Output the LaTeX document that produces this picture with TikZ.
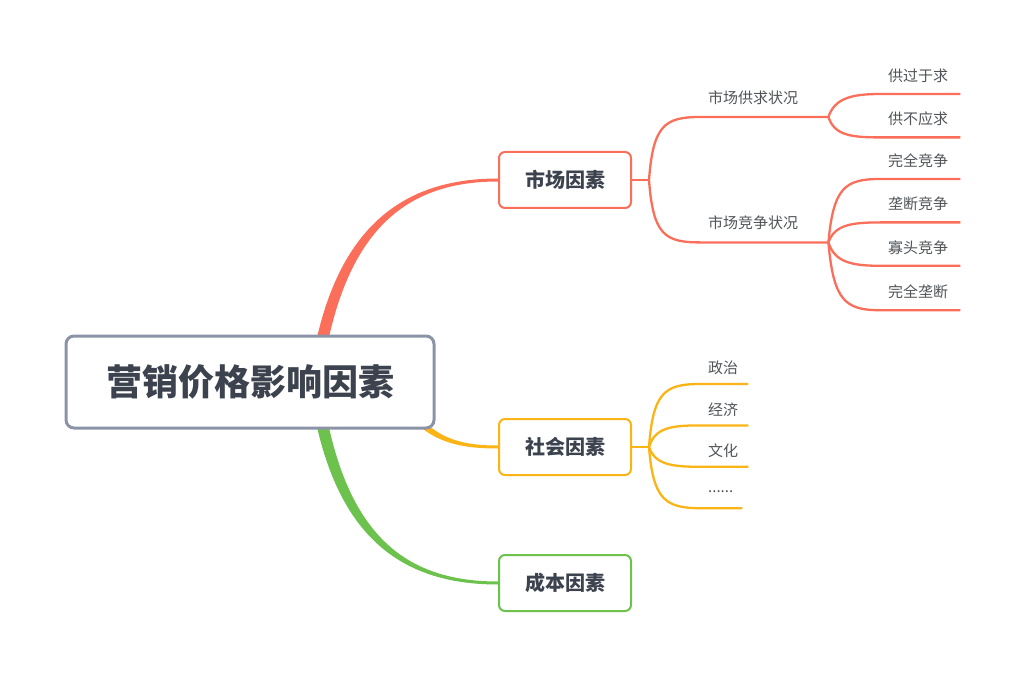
\documentclass[tikz,border=0pt]{standalone}
\usepackage{fontspec}
\setmainfont{Noto Sans CJK SC}
\usetikzlibrary{positioning}
\pgfdeclarelayer{background}
\pgfsetlayers{background,main}
\definecolor{mkred}{HTML}{FA6E5A}
\definecolor{mkorange}{HTML}{FBB416}
\definecolor{mkgreen}{HTML}{6CC24C}
\definecolor{rootgray}{HTML}{8A94A6}
\definecolor{textdark}{HTML}{3C434E}
\definecolor{textgray}{HTML}{505458}
\tikzstyle{root} = [
    rectangle, 
    rounded corners=8pt, 
    minimum width=368pt, 
    minimum height=92pt,
    draw=rootgray, 
    line width=3pt,
    fill=white,
    text=textdark,
    font=\fontsize{36}{40}\selectfont\bfseries
]
\tikzstyle{topic} = [
    rectangle, 
    rounded corners=6pt, 
    minimum width=132pt, 
    minimum height=56pt,
    line width=2pt,
    fill=white,
    text=textdark,
    font=\fontsize{20}{23}\selectfont\bfseries
]
\tikzstyle{sub} = [
    rectangle, 
    inner xsep=8pt, 
    inner ysep=0pt, 
    minimum height=38pt,
    text width=112pt, 
    align=left,
    text=textgray,
    font=\fontsize{15}{18}\selectfont
]
\tikzstyle{leaf} = [sub, minimum height=36pt, text width=64pt]
\tikzstyle{sleaf} = [sub, minimum height=32pt, text width=32pt]
\tikzstyle{branch} = [line width=2.3pt]

\begin{document}
\begin{tikzpicture}[x=1pt, y=-1pt]
\useasboundingbox (0,0) rectangle (1024,676);

% Nodes
\node (root) [root] at (250,382) {营销价格影响因素};
\node (mkt) [topic, draw=mkred] at (565,180) {市场因素};
\node (soc) [topic, draw=mkorange, below=209pt of mkt] {社会因素};
\node (cost) [topic, draw=mkgreen, below=78pt of soc] {成本因素};

\node (gq) [sub, anchor=south west] at (700,117) {市场供求状况};
\node (jz) [sub, below=87pt of gq] {市场竞争状况};

\node (gq1) [leaf, anchor=south west] at (880,94) {供过于求};
\node (gq2) [leaf, below=7pt of gq1] {供不应求};
\node (jz1) [leaf, anchor=south west] at (880,179) {完全竞争};
\node (jz2) [leaf, below=7pt of jz1] {垄断竞争};
\node (jz3) [leaf, below=7pt of jz2] {寡头竞争};
\node (jz4) [leaf, below=8pt of jz3] {完全垄断};

\node (sh1) [sleaf, anchor=south west] at (700,384) {政治};
\node (sh2) [sleaf, below=9pt of sh1] {经济};
\node (sh3) [sleaf, below=9pt of sh2] {文化};
\node (sh4) [sleaf, below=9pt of sh3] {......};

% Main branches
\begin{pgfonlayer}{background}
\fill [mkred] ([xshift=59pt]root.center) .. controls (329,232) and (398,178.5) .. ([yshift=1.5pt]mkt.west)
    -- ([yshift=-1.5pt]mkt.west) .. controls (402,181.5) and (341,234) .. ([xshift=71pt]root.center) -- cycle;
\fill [mkgreen] ([xshift=59pt]root.center) .. controls (329,534) and (398,584.5) .. ([yshift=-1.5pt]cost.west)
    -- ([yshift=1.5pt]cost.west) .. controls (402,581.5) and (341,532) .. ([xshift=71pt]root.center) -- cycle;
\fill [mkorange] ([xshift=152pt,yshift=-11pt]root.center) .. controls (428,436) and (455,445.5) .. ([yshift=1.5pt]soc.west)
    -- ([yshift=-1.5pt]soc.west) .. controls (453,448.5) and (422,440) .. ([xshift=146pt,yshift=-16pt]root.center) -- cycle;
\end{pgfonlayer}

% Market branches
\draw [branch, mkred] (mkt.east) -- ++(17,0) coordinate (mktfork);
\draw [branch, mkred] (mktfork) .. controls +(4,-55) and +(-35,0) .. (gq.south west) -- (gq.south east);
\draw [branch, mkred] (mktfork) .. controls +(4,55) and +(-35,0) .. (jz.south west) -- (jz.south east);
\draw [branch, mkred] (gq.south east) .. controls +(6,-18) and +(-30,0) .. (gq1.south west) -- (gq1.south east);
\draw [branch, mkred] (gq.south east) .. controls +(6,18) and +(-30,0) .. (gq2.south west) -- (gq2.south east);
\draw [branch, mkred] (jz.south east) .. controls +(5,-55) and +(-35,0) .. (jz1.south west) -- (jz1.south east);
\draw [branch, mkred] (jz.south east) .. controls +(6,-17) and +(-30,0) .. (jz2.south west) -- (jz2.south east);
\draw [branch, mkred] (jz.south east) .. controls +(6,19) and +(-30,0) .. (jz3.south west) -- (jz3.south east);
\draw [branch, mkred] (jz.south east) .. controls +(5,58) and +(-35,0) .. (jz4.south west) -- (jz4.south east);

% Social branches
\draw [branch, mkorange] (soc.east) -- ++(17,0) coordinate (socfork);
\draw [branch, mkorange] (socfork) .. controls +(4,-55) and +(-35,0) .. (sh1.south west) -- (sh1.south east);
\draw [branch, mkorange] (socfork) .. controls +(6,-19) and +(-30,0) .. (sh2.south west) -- (sh2.south east);
\draw [branch, mkorange] (socfork) .. controls +(6,17) and +(-30,0) .. (sh3.south west) -- (sh3.south east);
\draw [branch, mkorange] (socfork) .. controls +(4,52) and +(-35,0) .. (sh4.south west) -- ([xshift=-6pt]sh4.south east);

\end{tikzpicture}
\end{document}
